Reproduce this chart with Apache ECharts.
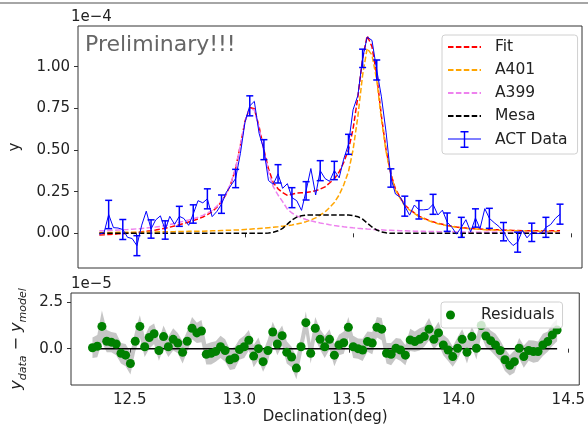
<!DOCTYPE html>
<html>
<head>
<meta charset="utf-8">
<title>ACT profile fit</title>
<script src="https://cdn.jsdelivr.net/npm/echarts@6/dist/echarts.min.js"></script>
</head>
<body style="margin:0;padding:0;background:#fff;">
<div id="main" style="width:588px;height:429px;"></div>
<script>
// declination grid (deg)
var xs = [12.330,12.352,12.373,12.395,12.416,12.438,12.460,12.481,12.503,12.525,
  12.546,12.568,12.589,12.611,12.633,12.654,12.676,12.698,12.719,12.741,
  12.762,12.784,12.806,12.827,12.849,12.871,12.892,12.914,12.935,12.957,
  12.979,13.000,13.022,13.043,13.065,13.087,13.108,13.130,13.152,13.173,
  13.195,13.216,13.238,13.260,13.281,13.303,13.325,13.346,13.368,13.389,
  13.411,13.433,13.454,13.476,13.497,13.519,13.541,13.562,13.584,13.606,
  13.627,13.649,13.671,13.692,13.714,13.735,13.757,13.779,13.800,13.822,
  13.843,13.865,13.887,13.908,13.930,13.952,13.973,13.995,14.016,14.038,
  14.060,14.081,14.103,14.124,14.146,14.168,14.189,14.211,14.233,14.254,
  14.276,14.297,14.319,14.341,14.362,14.384,14.406,14.427,14.449];

// top panel, units of 1e-4
var actData = [-0.005,0.004,0.113,0.034,0.032,0.023,-0.024,-0.031,-0.074,0.049,
  0.133,0.026,0.080,0.105,0.020,0.102,0.054,0.102,0.089,0.048,
  0.116,0.196,0.183,0.207,0.100,0.132,0.175,0.246,0.287,0.329,
  0.480,0.667,0.765,0.792,0.599,0.502,0.317,0.294,0.357,0.270,
  0.298,0.214,0.196,0.138,0.255,0.389,0.230,0.376,0.329,0.312,
  0.377,0.333,0.445,0.534,0.741,0.827,1.050,1.178,1.158,0.980,
  0.823,0.606,0.332,0.236,0.217,0.163,0.109,0.170,0.141,0.141,
  0.144,0.174,0.110,0.139,0.067,0.036,-0.005,0.036,0.082,0.009,
  0.092,0.028,0.148,0.090,0.064,0.041,0.010,-0.042,-0.073,-0.053,
  0.018,-0.027,0.006,0.000,-0.001,0.036,0.053,0.089,0.115];

var fit = [-0.010,-0.009,-0.007,-0.006,-0.003,-0.002,0.001,0.004,0.006,0.009,
  0.013,0.016,0.020,0.025,0.030,0.037,0.044,0.052,0.059,0.068,
  0.076,0.086,0.098,0.112,0.130,0.157,0.190,0.236,0.297,0.389,
  0.530,0.672,0.755,0.747,0.639,0.502,0.387,0.304,0.267,0.245,
  0.228,0.234,0.241,0.243,0.245,0.249,0.255,0.266,0.279,0.302,
  0.327,0.368,0.425,0.502,0.626,0.817,1.050,1.185,1.120,0.950,
  0.708,0.501,0.357,0.266,0.215,0.170,0.144,0.123,0.103,0.091,
  0.079,0.069,0.060,0.054,0.047,0.043,0.038,0.034,0.032,0.029,
  0.027,0.026,0.023,0.022,0.021,0.021,0.020,0.018,0.017,0.017,
  0.016,0.016,0.016,0.016,0.015,0.016,0.015,0.015,0.015];

var a401 = [0.005,0.005,0.005,0.005,0.006,0.006,0.006,0.007,0.007,0.007,
  0.008,0.008,0.008,0.009,0.009,0.010,0.010,0.011,0.011,0.012,
  0.012,0.013,0.013,0.014,0.015,0.016,0.017,0.018,0.019,0.020,
  0.021,0.023,0.025,0.027,0.029,0.031,0.034,0.037,0.040,0.043,
  0.046,0.050,0.056,0.062,0.070,0.080,0.093,0.110,0.128,0.155,
  0.185,0.230,0.290,0.370,0.500,0.700,0.950,1.110,1.070,0.920,
  0.690,0.490,0.350,0.260,0.210,0.165,0.140,0.120,0.100,0.088,
  0.077,0.066,0.058,0.052,0.046,0.041,0.037,0.033,0.030,0.028,
  0.026,0.024,0.022,0.021,0.020,0.019,0.018,0.017,0.016,0.015,
  0.014,0.014,0.013,0.013,0.012,0.012,0.011,0.011,0.010];

var a399 = [0.015,0.016,0.017,0.018,0.020,0.021,0.023,0.025,0.027,0.029,
  0.032,0.035,0.038,0.042,0.047,0.052,0.059,0.066,0.073,0.080,
  0.088,0.097,0.108,0.121,0.138,0.163,0.195,0.240,0.300,0.390,
  0.530,0.670,0.750,0.740,0.630,0.490,0.370,0.280,0.230,0.190,
  0.145,0.122,0.105,0.093,0.083,0.075,0.068,0.062,0.057,0.052,
  0.047,0.043,0.039,0.036,0.033,0.030,0.028,0.026,0.024,0.022,
  0.021,0.019,0.018,0.017,0.016,0.015,0.014,0.013,0.012,0.012,
  0.011,0.011,0.010,0.010,0.009,0.009,0.008,0.008,0.008,0.007,
  0.007,0.007,0.006,0.006,0.006,0.006,0.006,0.005,0.005,0.005,
  0.005,0.005,0.005,0.005,0.005,0.005,0.005,0.005,0.005];

var mesa = [0,0,0,0,0,0,0,0,0,0,
  0,0,0,0,0,0,0,0,0,0,
  0,0,0,0,0,0,0,0,0,0,
  0,0,0,0,0,0,0.002,0.006,0.015,0.030,
  0.055,0.080,0.097,0.105,0.109,0.110,0.110,0.110,0.110,0.110,
  0.110,0.110,0.110,0.110,0.107,0.100,0.085,0.062,0.038,0.020,
  0.009,0.003,0,0,0,0,0,0,0,0,
  0,0,0,0,0,0,0,0,0,0,
  0,0,0,0,0,0,0,0,0,0,
  0,0,0,0,0,0,0,0,0];

// bottom panel, units of 1e-5
var resid = [0.05,0.13,1.2,0.4,0.35,0.25,-0.25,-0.35,-0.8,0.4,
  1.2,0.1,0.6,0.8,-0.1,0.65,0.1,0.5,0.3,-0.2,
  0.4,1.1,0.85,0.95,-0.3,-0.25,-0.15,0.1,-0.1,-0.6,
  -0.5,-0.05,0.1,0.45,-0.4,0.0,-0.7,-0.1,0.9,0.25,
  0.7,-0.2,-0.45,-1.05,0.1,1.4,-0.25,1.1,0.5,0.1,
  0.5,-0.35,0.2,0.32,1.15,0.1,0.0,-0.07,0.38,0.3,
  1.15,1.05,-0.25,-0.3,0.02,-0.07,-0.35,0.47,0.38,0.5,
  0.65,1.05,0.5,0.85,0.2,-0.07,-0.43,0.02,0.5,-0.2,
  0.65,0.02,1.25,0.68,0.43,0.2,-0.1,-0.6,-0.9,-0.7,
  0.02,-0.43,-0.1,-0.16,-0.16,0.2,0.38,0.74,1.0];

// 1-sigma errors, units of 1e-5
var errs = [0.55,0.6,0.85,0.6,0.55,0.6,0.55,0.6,0.6,0.55,
  0.6,0.55,0.6,0.55,0.55,0.6,0.55,0.6,0.55,0.6,
  0.55,0.6,0.55,0.6,0.55,0.6,0.55,0.6,0.6,0.55,
  0.6,0.55,0.6,0.55,0.6,0.6,0.55,0.6,0.55,0.6,
  0.55,0.6,0.55,0.6,0.55,0.6,0.55,0.6,0.55,0.6,
  0.55,0.6,0.55,0.6,0.55,0.6,0.55,0.6,0.55,0.6,
  0.55,0.6,0.55,0.6,0.55,0.6,0.55,0.6,0.55,0.6,
  0.55,0.6,0.55,0.6,0.55,0.6,0.55,0.6,0.55,0.6,
  0.55,0.6,0.55,0.6,0.55,0.6,0.55,0.6,0.55,0.6,
  0.55,0.6,0.55,0.6,0.55,0.6,0.55,0.6,0.6];

var xTicks = [12.5, 13.0, 13.5, 14.0, 14.5];
var yTopTicks = [0, 0.25, 0.5, 0.75, 1.0];
var yBotTicks = [0, 2.5];

function pairs(ys) {
    return xs.map(function (x, i) { return [x, ys[i]]; });
}

var errData = [];
for (var i = 0; i < xs.length; i++) {
    if (i % 3 == 2) {
        errData.push([xs[i], actData[i] - errs[i] / 10, actData[i] + errs[i] / 10]);
    }
}

var FONT = 'DejaVu Sans';
var AX = '#333';
var dash = [5.5, 2.4];

function axisCommon(vals, showLabel, fmt) {
    return {
        axisLine: { show: false },
        splitLine: { show: false },
        axisTick: { show: true, inside: false, length: 4, customValues: vals, lineStyle: { color: AX, width: 1 } },
        axisLabel: { show: showLabel, customValues: vals, margin: 8, fontSize: 15, color: '#222', fontFamily: FONT, formatter: fmt }
    };
}

function renderErr(params, api) {
    var x = api.value(0);
    var p1 = api.coord([x, api.value(1)]);
    var p2 = api.coord([x, api.value(2)]);
    var c = 3.5;
    var st = { stroke: '#0000ff', lineWidth: 1.5 };
    return {
        type: 'group',
        children: [
            { type: 'line', shape: { x1: p1[0], y1: p1[1], x2: p2[0], y2: p2[1] }, style: st },
            { type: 'line', shape: { x1: p1[0] - c, y1: p1[1], x2: p1[0] + c, y2: p1[1] }, style: st },
            { type: 'line', shape: { x1: p2[0] - c, y1: p2[1], x2: p2[0] + c, y2: p2[1] }, style: st }
        ]
    };
}

// shaded +-1 sigma band around the residuals
function renderBand(params, api) {
    var pts = [];
    for (var k = 0; k < xs.length; k++) pts.push(api.coord([xs[k], resid[k] + errs[k]]));
    for (var k = xs.length - 1; k >= 0; k--) pts.push(api.coord([xs[k], resid[k] - errs[k]]));
    return { type: 'polygon', shape: { points: pts }, style: { fill: 'rgba(128,128,128,0.45)' } };
}

var myChart = echarts.init(document.getElementById('main'));

var option = {
    animation: false,
    textStyle: { fontFamily: FONT },
    grid: [
        { left: 71, top: 26, width: 511, height: 242, show: true, borderColor: AX, borderWidth: 1 },
        { left: 71, top: 293, width: 511, height: 92, show: true, borderColor: AX, borderWidth: 1 }
    ],
    xAxis: [
        Object.assign({ type: 'value', gridIndex: 0, min: 12.232, max: 14.55 },
            axisCommon(xTicks, false)),
        Object.assign({ type: 'value', gridIndex: 1, min: 12.232, max: 14.55,
            name: 'Declination(deg)', nameLocation: 'middle', nameGap: 25,
            nameTextStyle: { fontSize: 15, color: '#222', fontFamily: FONT } },
            axisCommon(xTicks, true, function (v) { return v.toFixed(1); }))
    ],
    yAxis: [
        Object.assign({ type: 'value', gridIndex: 0, min: -0.208, max: 1.244,
            name: 'y', nameLocation: 'middle', nameGap: 55, nameRotate: 90,
            nameTextStyle: { fontSize: 15, color: '#222', fontFamily: FONT } },
            axisCommon(yTopTicks, true, function (v) { return v.toFixed(2); })),
        Object.assign({ type: 'value', gridIndex: 1, min: -1.96, max: 3.0,
            name: '{i|y}{s|data}{i| − y}{s|model}', nameLocation: 'middle', nameGap: 30, nameRotate: 90,
            nameTextStyle: {
                color: '#222', fontFamily: FONT,
                rich: {
                    i: { fontSize: 16, fontStyle: 'italic', color: '#222', lineHeight: 22, verticalAlign: 'middle', fontFamily: FONT },
                    s: { fontSize: 11, fontStyle: 'italic', color: '#222', lineHeight: 11, verticalAlign: 'bottom', fontFamily: FONT }
                }
            } },
            axisCommon(yBotTicks, true, function (v) { return v.toFixed(1); }))
    ],
    legend: [
        {
            left: 442, top: 35, orient: 'vertical',
            itemWidth: 33, itemHeight: 17, itemGap: 7,
            padding: [4, 10, 6, 5],
            backgroundColor: 'rgba(255,255,255,0.8)', borderColor: '#d0d0d0', borderWidth: 1, borderRadius: 3,
            itemStyle: { opacity: 0 },
            textStyle: { fontSize: 15.5, color: '#222', fontFamily: FONT, padding: [0, 0, 0, 9] },
            data: ['Fit', 'A401', 'A399', 'Mesa',
                { name: 'ACT Data', itemStyle: { opacity: 1 },
                  icon: 'path://M0,7.6L33,7.6L33,8.6L0,8.6Z M15.8,0L17.2,0L17.2,17L15.8,17Z M12.5,0L20.5,0L20.5,1.6L12.5,1.6Z M12.5,15.4L20.5,15.4L20.5,17L12.5,17Z' }]
        },
        {
            left: 441, top: 302, orient: 'vertical',
            itemWidth: 33, itemHeight: 9,
            padding: [5, 8, 5, 5],
            backgroundColor: 'rgba(255,255,255,0.8)', borderColor: '#d0d0d0', borderWidth: 1, borderRadius: 3,
            textStyle: { fontSize: 15.5, color: '#222', fontFamily: FONT, padding: [0, 0, 0, 9] },
            data: [{ name: 'Residuals', icon: 'circle' }]
        }
    ],
    graphic: [
        { type: 'line', shape: { x1: 0, y1: 3, x2: 588, y2: 3 }, style: { stroke: '#888', lineWidth: 1.5 } },
        { type: 'text', left: 71, top: 10, style: { text: '1e−4', fontSize: 15, fill: '#222', fontFamily: FONT } },
        { type: 'text', left: 71, top: 277, style: { text: '1e−5', fontSize: 15, fill: '#222', fontFamily: FONT } },
        { type: 'text', left: 85, top: 34, style: { text: 'Preliminary!!!', fontSize: 22, fill: '#666', fontFamily: FONT } }
    ],
    series: [
        { name: 'Fit', type: 'line', xAxisIndex: 0, yAxisIndex: 0, data: pairs(fit), symbol: 'none', z: 3,
          lineStyle: { color: '#ff0000', width: 1.5, type: dash }, itemStyle: { color: '#ff0000' } },
        { name: 'A401', type: 'line', xAxisIndex: 0, yAxisIndex: 0, data: pairs(a401), symbol: 'none', z: 3,
          lineStyle: { color: '#ffa500', width: 1.5, type: dash }, itemStyle: { color: '#ffa500' } },
        { name: 'A399', type: 'line', xAxisIndex: 0, yAxisIndex: 0, data: pairs(a399), symbol: 'none', z: 3,
          lineStyle: { color: '#ee82ee', width: 1.5, type: dash }, itemStyle: { color: '#ee82ee' } },
        { name: 'Mesa', type: 'line', xAxisIndex: 0, yAxisIndex: 0, data: pairs(mesa), symbol: 'none', z: 3,
          lineStyle: { color: '#000', width: 1.5, type: dash }, itemStyle: { color: '#000' } },
        { name: 'ACT Data', type: 'line', xAxisIndex: 0, yAxisIndex: 0, data: pairs(actData), symbol: 'none', z: 4,
          lineStyle: { color: '#0000ff', width: 1 }, itemStyle: { color: '#0000ff' } },
        { name: 'errbars', type: 'custom', xAxisIndex: 0, yAxisIndex: 0, data: errData, renderItem: renderErr, z: 4 },

        { name: 'band', type: 'custom', xAxisIndex: 1, yAxisIndex: 1, data: [[xs[0], 0]], renderItem: renderBand, z: 1, silent: true },
        { name: 'zero', type: 'line', xAxisIndex: 1, yAxisIndex: 1, data: [[xs[0], 0], [xs[xs.length - 1], 0]], symbol: 'none',
          lineStyle: { color: '#000', width: 1.5 }, z: 2 },
        { name: 'Residuals', type: 'scatter', xAxisIndex: 1, yAxisIndex: 1, data: pairs(resid), symbolSize: 9,
          itemStyle: { color: '#008000', opacity: 1 }, z: 3 }
    ]
};
myChart.setOption(option);
</script>
</body>
</html>
